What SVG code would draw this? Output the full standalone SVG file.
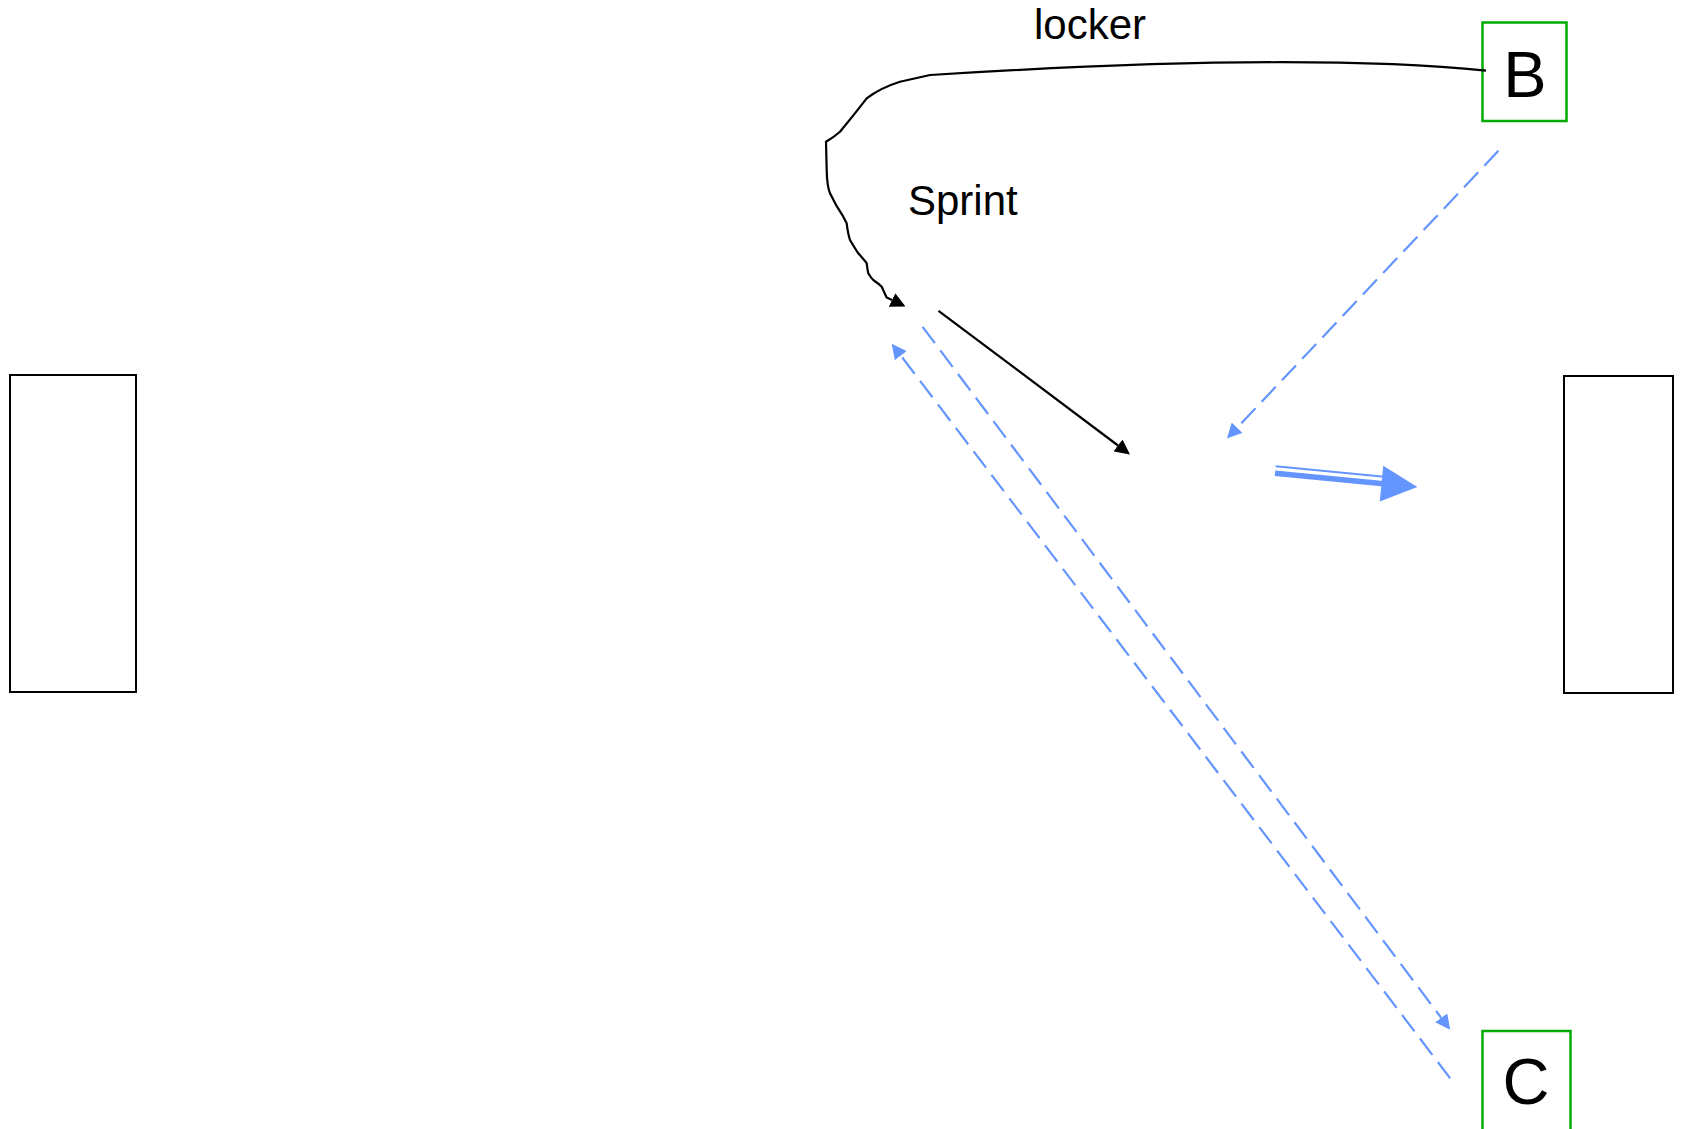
<svg xmlns="http://www.w3.org/2000/svg" width="1682" height="1129" viewBox="0 0 1682 1129">
  <style>
    .lbl { font-family: "Liberation Sans", Arial, sans-serif; fill: #000; }
    .box { fill: #fff; stroke: #000; stroke-width: 2; }
    .gbox { fill: #fff; stroke: #00aa00; stroke-width: 2.5; }
    .blk { fill: none; stroke: #000; stroke-width: 2.2; }
    .blu { fill: none; stroke: #6495ff; stroke-width: 2.2; stroke-dasharray: 20.5 9; }
  </style>
  <defs>
    <marker id="ahBlack" markerUnits="userSpaceOnUse" markerWidth="15" markerHeight="15" viewBox="0 0 15 15" refX="0" refY="7.5" orient="auto">
      <path d="M0,0 L15,7.5 L0,15 z" fill="#000"/>
    </marker>
    <marker id="ahBlue" markerUnits="userSpaceOnUse" markerWidth="15" markerHeight="15" viewBox="0 0 15 15" refX="0" refY="7.5" orient="auto">
      <path d="M0,0 L15,7.5 L0,15 z" fill="#6495ff"/>
    </marker>
  </defs>
  <rect width="1682" height="1129" fill="#fff"/>

  <g id="rect-left"><rect class="box" x="10" y="375" width="126" height="317"/></g>
  <g id="rect-right"><rect class="box" x="1564" y="376" width="109" height="317"/></g>

  <g id="node-B">
    <rect class="gbox" x="1482.5" y="22.5" width="84" height="98.5"/>
    <text class="lbl" x="1525" y="97" font-size="65" text-anchor="middle">B</text>
  </g>
  <g id="node-C">
    <rect class="gbox" x="1482.5" y="1031" width="88" height="110"/>
    <text class="lbl" x="1526" y="1104" font-size="65" text-anchor="middle">C</text>
  </g>

  <g id="label-locker"><text class="lbl" x="1034" y="39" font-size="42">locker</text></g>
  <g id="label-sprint"><text class="lbl" x="908" y="215" font-size="42">Sprint</text></g>

  <g id="connectors">
    <path class="blk" marker-end="url(#ahBlack)" d="M1486,70.7 C1380,60 1200,58 930,75 L900,81.7 Q880,88 866.7,98.3 Q853,116 840,131.7 Q834,137 826,141.7 L826.7,170 Q827,186 830,193.3 Q836,206 843.3,216.7 L846.7,223.3 Q848,234 850,240 Q854,247 858.3,253.3 Q866,262 866.7,263.3 Q867.5,270 868.3,273.3 Q871,278 873.3,280 Q879,284 881.7,286.7 L886.6,297.4 L892,300"/>
    <path class="blk" marker-end="url(#ahBlack)" d="M938.5,310.8 L1118,445.5"/>
    <path class="blu" marker-end="url(#ahBlue)" d="M1498.4,150.8 L1237.2,427.7"/>
    <path class="blu" marker-end="url(#ahBlue)" d="M922.6,326.8 L1441.2,1017.8"/>
    <path class="blu" marker-end="url(#ahBlue)" d="M1450.2,1078.3 L900.8,355.6"/>
    <g id="double-arrow" transform="translate(1275,473.3) rotate(5.5)" fill="#6495ff">
      <line x1="0" y1="0" x2="109" y2="0" stroke="#6495ff" stroke-width="5.5"/>
      <line x1="0" y1="-7" x2="109" y2="-7" stroke="#6495ff" stroke-width="2"/>
      <polygon points="107,-18 143,0 107,18"/>
    </g>
  </g>
</svg>
